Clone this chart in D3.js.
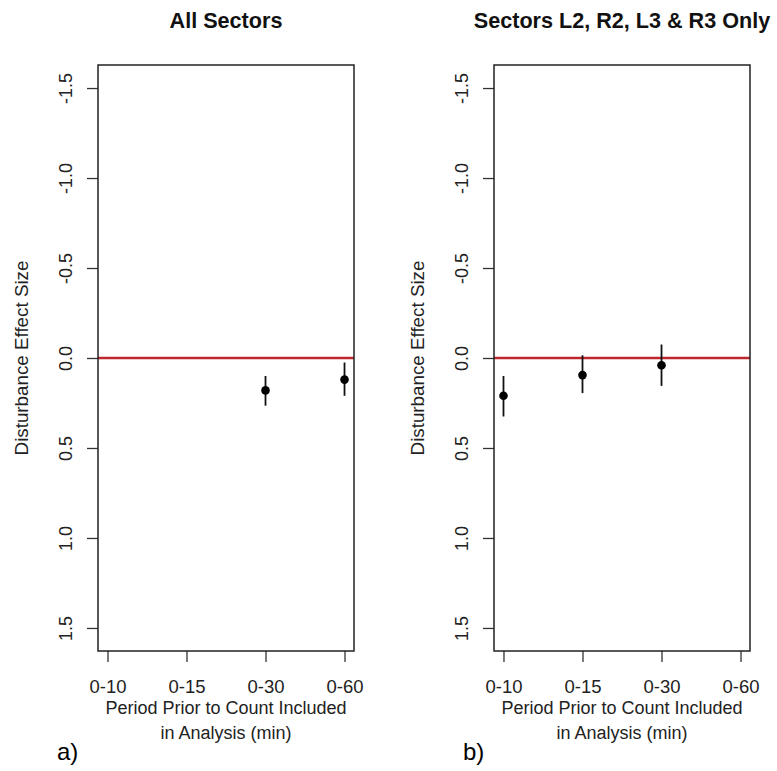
<!DOCTYPE html>
<html>
<head>
<meta charset="utf-8">
<script src="https://cdn.jsdelivr.net/npm/d3@7"></script>
<style>
  body { margin: 0; background: #fff; }
  svg { font-family: "Liberation Sans", Arial, sans-serif; }
</style>
</head>
<body>
<svg id="chart" width="777" height="771"></svg>
<script>
// values
const periods = ["0-10", "0-15", "0-30", "0-60"];
const yTicks = [-1.5, -1.0, -0.5, 0.0, 0.5, 1.0, 1.5];

const allMean  = [null, null, 0.18, 0.12];
const allLower = [null, null, 0.10, 0.025];
const allUpper = [null, null, 0.265, 0.21];

const subMean  = [0.21, 0.095, 0.04, null];
const subLower = [0.10, -0.015, -0.075, null];
const subUpper = [0.325, 0.195, 0.155, null];

const panels = [
  { title: "Sectors L2, R2, L3 & R3 Only", tag: "b)", mean: subMean, lo: subLower, hi: subUpper, dx: 396 },
  { title: "All Sectors", tag: "a)", mean: allMean, lo: allLower, hi: allUpper, dx: 0 }
];

const svg = d3.select("#chart");
const plotTop = 65, plotBottom = 651, plotLeft = 98, plotRight = 354;

panels.forEach(function(p) {
  const g = svg.append("g").attr("transform", `translate(${p.dx},0)`);

  const x = d3.scaleLinear().domain([0.88, 4.12]).range([plotLeft, plotRight]);
  const y = d3.scaleLinear().domain([-1.628, 1.628]).range([plotTop, plotBottom]);

  // title
  g.append("text")
    .attr("x", (plotLeft + plotRight) / 2).attr("y", 28)
    .attr("text-anchor", "middle")
    .attr("font-weight", "bold")
    .attr("font-size", 21.6)
    .attr("fill", "#111")
    .text(p.title);

  // y axis
  const ya = g.append("g").attr("transform", `translate(${plotLeft},0)`)
    .call(d3.axisLeft(y).tickValues(yTicks).tickSize(11).tickFormat(d => d.toFixed(1)));
  ya.select(".domain").remove();
  ya.selectAll(".tick line").attr("stroke", "#333").attr("stroke-width", 1.3);
  ya.selectAll(".tick text")
    .attr("x", 0).attr("dy", 0)
    .attr("transform", `translate(${72 - plotLeft},0) rotate(-90)`)
    .attr("text-anchor", "middle")
    .attr("font-size", 18)
    .attr("font-family", "Liberation Sans, Arial, sans-serif")
    .attr("fill", "#222");

  // x axis
  const xa = g.append("g").attr("transform", `translate(0,${plotBottom})`)
    .call(d3.axisBottom(x).tickValues([1, 2, 3, 4]).tickSize(11).tickFormat((d, i) => periods[i]));
  xa.select(".domain").remove();
  xa.selectAll(".tick line").attr("stroke", "#333").attr("stroke-width", 1.3);
  xa.selectAll(".tick text")
    .attr("y", 693 - plotBottom).attr("dy", 0)
    .attr("font-size", 18.5)
    .attr("font-family", "Liberation Sans, Arial, sans-serif")
    .attr("fill", "#222");

  // reference line
  g.append("line")
    .attr("x1", plotLeft).attr("x2", plotRight)
    .attr("y1", y(0)).attr("y2", y(0))
    .attr("stroke", "#c0272d").attr("stroke-width", 2.6);

  // box
  g.append("rect")
    .attr("x", plotLeft).attr("y", plotTop)
    .attr("width", plotRight - plotLeft).attr("height", plotBottom - plotTop)
    .attr("fill", "none").attr("stroke", "#222").attr("stroke-width", 1.5);

  // error bars and points
  const pts = p.mean.map((m, i) => ({ i: i + 1, m: m, lo: p.lo[i], hi: p.hi[i] })).filter(d => d.m !== null);
  g.selectAll(".err").data(pts).join("line")
    .attr("class", "err")
    .attr("x1", d => x(d.i)).attr("x2", d => x(d.i))
    .attr("y1", d => y(d.lo)).attr("y2", d => y(d.hi))
    .attr("stroke", "#111").attr("stroke-width", 1.8);
  g.selectAll(".pt").data(pts).join("circle")
    .attr("class", "pt")
    .attr("cx", d => x(d.i)).attr("cy", d => y(d.m))
    .attr("r", 4.3).attr("fill", "#000");

  // axis titles
  g.append("text")
    .attr("transform", `translate(28,${(plotTop + plotBottom) / 2}) rotate(-90)`)
    .attr("text-anchor", "middle")
    .attr("font-size", 18.8).attr("fill", "#222")
    .text("Disturbance Effect Size");

  const xt = g.append("text")
    .attr("text-anchor", "middle")
    .attr("font-size", 18).attr("fill", "#222");
  xt.append("tspan").attr("x", (plotLeft + plotRight) / 2).attr("y", 714).text("Period Prior to Count Included");
  xt.append("tspan").attr("x", (plotLeft + plotRight) / 2).attr("y", 739).text("in Analysis (min)");

  // panel tag
  g.append("text")
    .attr("x", p.tag === "a)" ? 57 : 463 - p.dx).attr("y", 760)
    .attr("font-size", 24).attr("fill", "#000")
    .text(p.tag);
});
</script>
</body>
</html>
